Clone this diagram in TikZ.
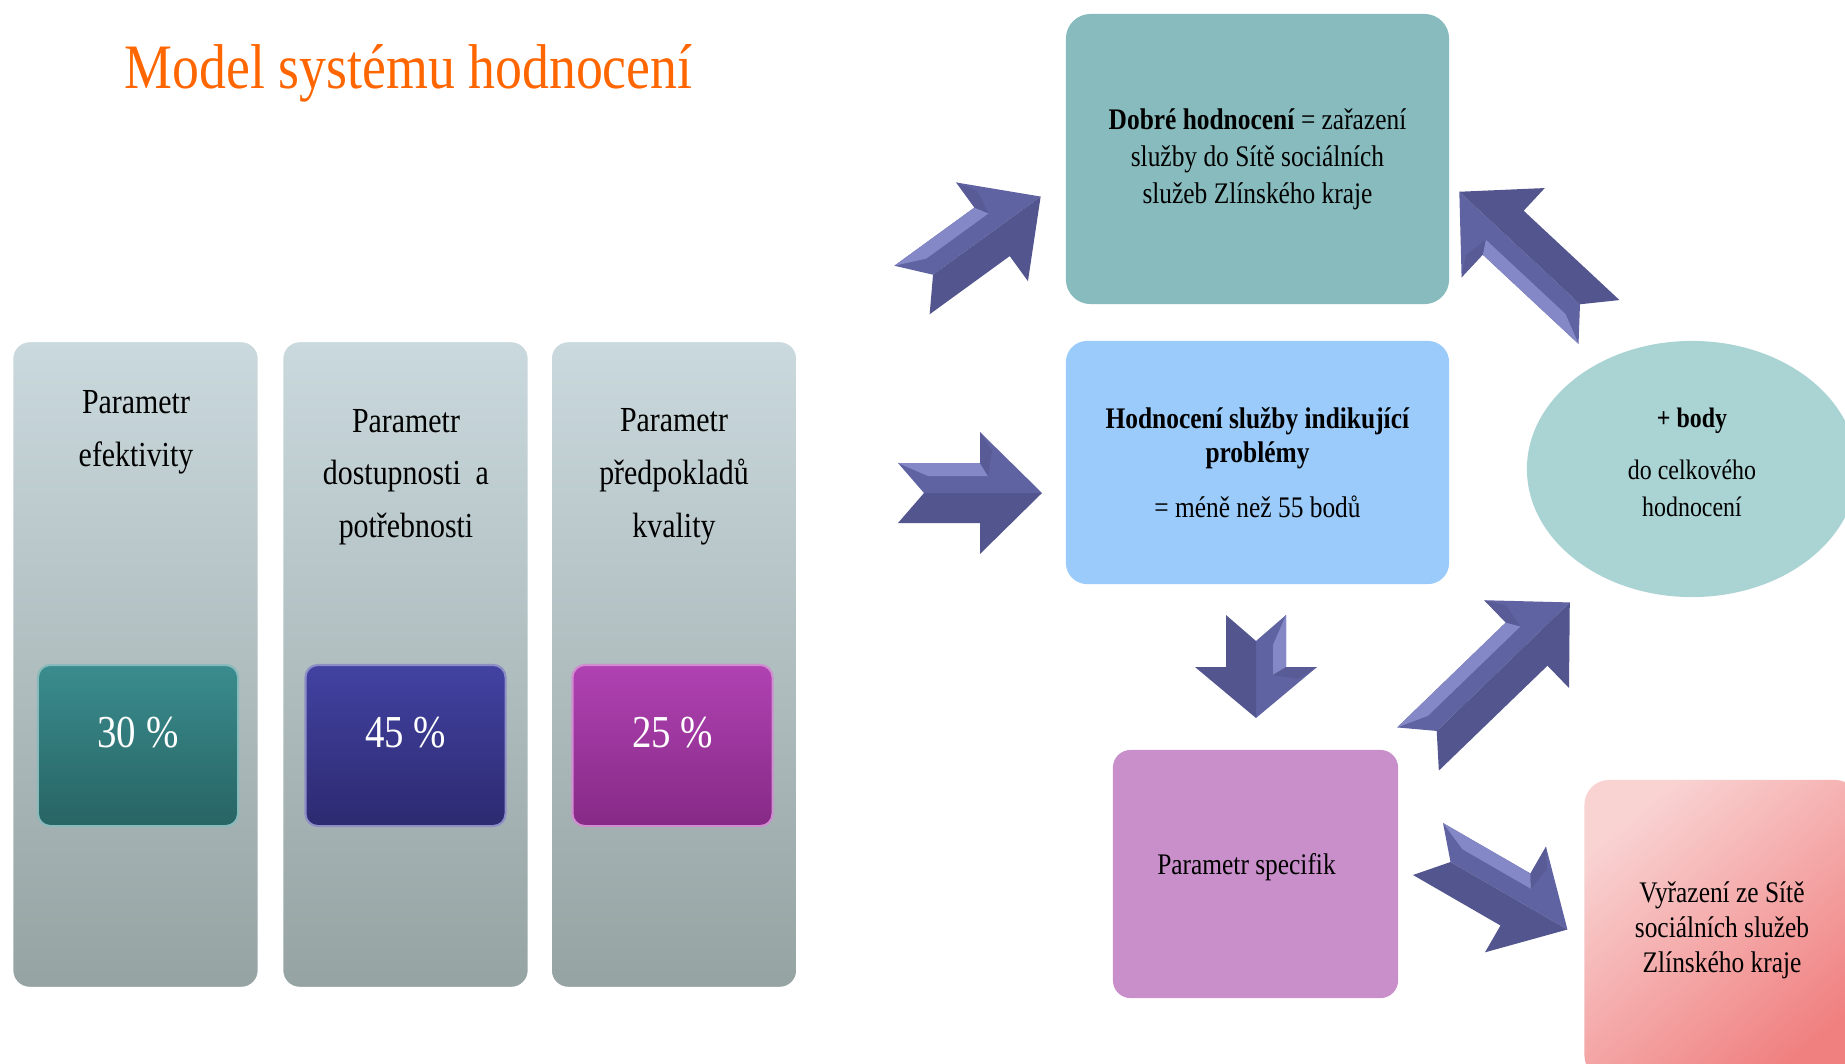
\documentclass[tikz,border=0pt]{standalone}
\usepackage{fontspec}
\setmainfont{Liberation Serif}[FakeStretch=0.85]
\usetikzlibrary{shapes.geometric}

\definecolor{titleorange}{HTML}{FF6600}
\definecolor{colTop}{HTML}{CAD9DD}
\definecolor{colBot}{HTML}{96A3A3}
\definecolor{effTop}{HTML}{3A8C8E}
\definecolor{effBot}{HTML}{286464}
\definecolor{dosTop}{HTML}{4242A2}
\definecolor{dosBot}{HTML}{2C2A70}
\definecolor{kvaTop}{HTML}{B042B2}
\definecolor{kvaBot}{HTML}{862A86}
\definecolor{goodTeal}{HTML}{88BBBE}
\definecolor{probBlue}{HTML}{9BCBFA}
\definecolor{bodyTeal}{HTML}{AAD3D3}
\definecolor{specPink}{HTML}{C98FCB}
\definecolor{outLight}{HTML}{F9D2D2}
\definecolor{outDark}{HTML}{F08080}
\definecolor{arrowmid}{HTML}{6063A2}
\definecolor{arrowlight}{HTML}{8588C6}
\definecolor{arrowdark}{HTML}{53558E}

\tikzset{
  column/.style={rounded corners=5pt, top color=colTop, bottom color=colBot,
    draw=white, line width=0.8pt, minimum width=2.47cm, minimum height=6.47cm},
  coltext/.style={align=center, font=\fontsize{10}{15}\selectfont},
  pctbox/.style n args={2}{rounded corners=3.5pt, top color=#1, bottom color=#2,
    draw=#1!60!white, line width=0.6pt, minimum width=2cm, minimum height=1.61cm,
    text=white, text depth=7.5pt, font=\fontsize{13}{15}\selectfont},
  flowbox/.style={rounded corners=6pt, align=center, inner sep=0pt,
    font=\fontsize{8.5}{10.5}\selectfont},
}

\begin{document}
\begin{tikzpicture}[x=0.01cm,y=-0.01cm]
  \useasboundingbox (0,0) rectangle (1845,1063);
  \clip (0,0) rectangle (1845,1063);

  \node[anchor=base west, inner sep=0pt, text=titleorange,
    font=\fontsize{18}{20}\selectfont] (title) at (124,88) {Model systému hodnocení};

  % three parameters with their weights
  \node[column] (effCol) at (135.5,664.5) {};
  \node[column] (dosCol) at (405.5,664.5) {};
  \node[column] (kvaCol) at (674,664.5) {};
  \node[coltext] (effTxt) at (136,432) {Parametr\\efektivity};
  \node[coltext] (dosTxt) at (406,477) {Parametr\\dostupnosti~ a\\potřebnosti};
  \node[coltext] (kvaTxt) at (674,477) {Parametr\\předpokladů\\kvality};
  \node[pctbox={effTop}{effBot}] (effPct) at (138,745.5) {30 \%};
  \node[pctbox={dosTop}{dosBot}] (dosPct) at (405.5,745.5) {45 \%};
  \node[pctbox={kvaTop}{kvaBot}] (kvaPct) at (672.5,745.5) {25 \%};

  % results
  \node[flowbox, rounded corners=7pt, fill=goodTeal, minimum width=3.83cm,
    minimum height=2.9cm] (good) at (1257.5,159)
    {\textbf{Dobré hodnocení} = zařazení\\služby do Sítě sociálních\\služeb Zlínského kraje};
  \node[flowbox, fill=probBlue, minimum width=3.83cm, minimum height=2.43cm,
    font=\fontsize{8.5}{9.7}\selectfont] (prob) at (1257.5,462.5)
    {\textbf{Hodnocení služby indikující}\\\textbf{problémy}\\[6pt]= méně než 55 bodů};
  \node[ellipse, fill=bodyTeal, inner sep=0pt, minimum width=3.3cm, minimum height=2.56cm,
    align=center, text depth=4pt, font=\fontsize{8}{10.5}\selectfont] (body) at (1692,469)
    {\textbf{+ body}\\[4.3pt]do celkového\\hodnocení};
  \node[flowbox, rounded corners=5pt, fill=specPink, minimum width=2.85cm,
    minimum height=2.48cm, text depth=5.8pt] (spec) at (1255.5,874)
    {Parametr specifik\hspace*{0.18cm}};
  \node[flowbox, rounded corners=7pt, top color=outLight, bottom color=outDark,
    shading angle=40, minimum width=2.75cm, minimum height=3cm,
    font=\fontsize{8.5}{10}\selectfont] (out)
    at (1722,930) {Vyřazení ze Sítě\\sociálních služeb\\Zlínského kraje};

  % block arrows: tail x / tail y / angle / length / head length
  \foreach \tx/\ty/\ang/\len/\hd in {912/290/36/159/60, 898/493/0/144/62,
      1256/615/-90/103/51, 1418/749/44/211/60, 1599/322/137/191/60,
      1428/849/-30/161/60}{
    \begin{scope}[shift={(\tx,\ty)}, rotate=\ang]
      \fill[arrowmid] (26,0) -- (0,-30) -- (\len-\hd,-30) -- (\len-\hd,-61) -- (\len,0) -- cycle;
      \fill[arrowdark] (26,0) -- (0,30) -- (\len-\hd,30) -- (\len-\hd,61) -- (\len,0) -- cycle;
      \fill[arrowlight] (0,-30) -- (\len-\hd,-30) -- (\len-\hd+8,-17) -- (30,-17) -- cycle;
      \fill[arrowdark!60!arrowmid] (\len-\hd+8,-17) -- (\len-\hd,-30) -- (\len-\hd,-61)
        -- (\len-\hd+12,-42) -- cycle;
    \end{scope}
  }
\end{tikzpicture}
\end{document}
